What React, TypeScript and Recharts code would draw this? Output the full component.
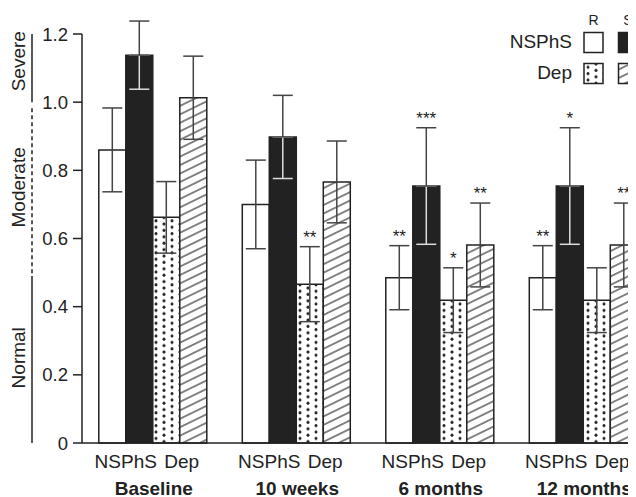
import React from "react";
import { BarChart, Bar, XAxis, YAxis, ErrorBar, LabelList, ReferenceArea } from "recharts";

const categories = ["Baseline", "10 weeks", "6 months", "12 months"];
const groupLabels = ["NSPhS", "Dep"];
const legendCols = ["R", "S"];

const nsphsR = [0.86, 0.7, 0.485, 0.485];
const nsphsRErr = [0.123, 0.13, 0.094, 0.094];
const nsphsRStars = ["", "", "**", "**"];

const nsphsS = [1.138, 0.898, 0.754, 0.754];
const nsphsSErr = [0.1, 0.122, 0.171, 0.171];
const nsphsSStars = ["", "", "***", "*"];

const depR = [0.662, 0.466, 0.419, 0.419];
const depRErr = [0.105, 0.11, 0.095, 0.095];
const depRStars = ["", "**", "*", ""];

const depS = [1.013, 0.766, 0.581, 0.581];
const depSErr = [0.122, 0.12, 0.123, 0.123];
const depSStars = ["", "", "**", "**"];

const yTicks = [0, 0.2, 0.4, 0.6, 0.8, 1.0, 1.2];
const yMax = 1.2;

const severityBands = [
  { name: "Severe", from: 1.0, to: 1.2, dashed: false, labelAt: 1.12 },
  { name: "Moderate", from: 0.49, to: 0.982, dashed: true, labelAt: 0.75 },
  { name: "Normal", from: 0.0, to: 0.49, dashed: false, labelAt: 0.25 },
];

const FONT = "'Liberation Sans', Arial, Helvetica, sans-serif";
const INK = "#222";

// Recharts widens the value domain to include the error bars; keep the
// 0..1.2 span at the reference's pixel size by sizing the plot accordingly.
const PLOT_BOTTOM = 435;
const SPAN_PX = 409; // pixels for 0 .. yMax
const domainTop = Math.max(
  yMax,
  ...nsphsR.map((v, i) => v + nsphsRErr[i]),
  ...nsphsS.map((v, i) => v + nsphsSErr[i]),
  ...depR.map((v, i) => v + depRErr[i]),
  ...depS.map((v, i) => v + depSErr[i])
);
const marginTop = PLOT_BOTTOM - (SPAN_PX * domainTop) / yMax;

const data = categories.map((name, i) => ({
  name,
  nR: nsphsR[i],
  nRe: nsphsRErr[i],
  nRs: nsphsRStars[i],
  nS: nsphsS[i],
  nSeLow: [nsphsSErr[i], 0],
  nSeHigh: [0, nsphsSErr[i]],
  nSs: nsphsSStars[i],
  dR: depR[i],
  dRe: depRErr[i],
  dRs: depRStars[i],
  dS: depS[i],
  dSe: depSErr[i],
  dSs: depSStars[i],
}));

const starLabel = (vals: number[], errs: number[]) => (props: any) => {
  const { x, y, width, height, value, index } = props;
  if (!value || index == null) return null;
  const pxPer = Number(height) / vals[index];
  const top = Number(y) - errs[index] * pxPer;
  return (
    <text
      x={Number(x) + Number(width) / 2}
      y={top - 4}
      textAnchor="middle"
      fontSize={17}
      fontFamily={FONT}
      fill={INK}
    >
      {value}
    </text>
  );
};

const XTick = (props: any) => {
  const { x, y, payload } = props;
  return (
    <g>
      <text x={x - 28} y={y + 25} textAnchor="middle" fontSize={19} fontFamily={FONT} fill={INK}>
        {groupLabels[0]}
      </text>
      <text x={x + 28} y={y + 25} textAnchor="middle" fontSize={19} fontFamily={FONT} fill={INK}>
        {groupLabels[1]}
      </text>
      <text
        x={x}
        y={y + 52}
        textAnchor="middle"
        fontSize={19}
        fontWeight="bold"
        fontFamily={FONT}
        fill={INK}
      >
        {payload.value}
      </text>
    </g>
  );
};

const axisLineShape = (props: any) => {
  const { x, y, height } = props;
  return <line x1={x} x2={x} y1={y} y2={y + height} stroke={INK} strokeWidth={1.5} />;
};

const bandShape = (band: (typeof severityBands)[number]) => (props: any) => {
  const { x, y, height } = props;
  const lx = x - 50;
  const ty = y + height * ((band.to - band.labelAt) / (band.to - band.from));
  const tx = x - 64;
  return (
    <g>
      <line
        x1={lx}
        x2={lx}
        y1={y}
        y2={y + height}
        stroke={INK}
        strokeWidth={1.5}
        strokeDasharray={band.dashed ? "4 3" : undefined}
      />
      <text
        x={tx}
        y={ty}
        dy="0.35em"
        textAnchor="middle"
        transform={`rotate(-90 ${tx} ${ty})`}
        fontSize={19}
        fontFamily={FONT}
        fill={INK}
      >
        {band.name}
      </text>
    </g>
  );
};

const Patterns = () => (
  <svg width={0} height={0} style={{ position: "absolute" }}>
    <defs>
      <pattern id="dots" patternUnits="userSpaceOnUse" width={16} height={6.4}>
        <rect width={16} height={6.4} fill="#fff" />
        <circle cx={4} cy={1.6} r={1.5} fill={INK} />
        <circle cx={12} cy={4.8} r={1.5} fill={INK} />
      </pattern>
      <pattern
        id="hatch"
        patternUnits="userSpaceOnUse"
        width={8}
        height={7.6}
        patternTransform="rotate(-26)"
      >
        <rect width={8} height={7.6} fill="#fff" />
        <line x1={-1} x2={9} y1={3.8} y2={3.8} stroke={INK} strokeWidth={1.1} />
      </pattern>
    </defs>
  </svg>
);

const LegendBox = () => (
  <svg
    width={628}
    height={100}
    style={{ position: "absolute", left: 0, top: 0, pointerEvents: "none" }}
  >
    <text x={585.5} y={17} textAnchor="middle" fontSize={14} fontFamily={FONT} fill={INK}>
      {legendCols[0]}
    </text>
    <text x={620} y={17} textAnchor="middle" fontSize={14} fontFamily={FONT} fill={INK}>
      {legendCols[1]}
    </text>
    <text x={564} y={40} textAnchor="end" fontSize={19} fontFamily={FONT} fill={INK}>
      {groupLabels[0]}
    </text>
    <text x={564} y={71} textAnchor="end" fontSize={19} fontFamily={FONT} fill={INK}>
      {groupLabels[1]}
    </text>
    <rect x={576} y={24.5} width={19} height={20} fill="#fff" stroke={INK} strokeWidth={1.5} />
    <rect x={610.5} y={24.5} width={19} height={20} fill={INK} stroke={INK} strokeWidth={1.5} />
    <rect x={576} y={55.5} width={19} height={20} fill="url(#dots)" stroke={INK} strokeWidth={1.5} />
    <rect x={610.5} y={55.5} width={19} height={20} fill="url(#hatch)" stroke={INK} strokeWidth={1.5} />
  </svg>
);

export default function App() {
  return (
    <div style={{ position: "relative", width: 628, height: 489, overflow: "hidden" }}>
      <Patterns />
      <BarChart
        width={660}
        height={489}
        data={data}
        margin={{ top: marginTop, right: 12, left: 0, bottom: 0 }}
        barCategoryGap="11.7%"
        barGap={0}
      >
        <XAxis
          dataKey="name"
          height={54}
          interval={0}
          tickSize={0}
          tickMargin={0}
          tickLine={false}
          axisLine={{ stroke: INK, strokeWidth: 1.5 }}
          tick={<XTick />}
        />
        <YAxis
          domain={[0, domainTop]}
          ticks={yTicks}
          interval={0}
          width={74}
          tickSize={9}
          tickMargin={5}
          axisLine={false}
          tickLine={{ stroke: INK, strokeWidth: 1.5 }}
          tick={{ fill: INK, fontSize: 18.5, fontFamily: FONT }}
          tickFormatter={(v: number) => (v === 0 ? "0" : v.toFixed(1))}
        />
        <ReferenceArea y1={0} y2={yMax} ifOverflow="visible" shape={axisLineShape} />
        {severityBands.map((b) => (
          <ReferenceArea
            key={b.name}
            y1={b.from}
            y2={b.to}
            ifOverflow="visible"
            shape={bandShape(b)}
          />
        ))}
        <Bar dataKey="nR" fill="#fff" stroke={INK} strokeWidth={1.5} isAnimationActive={false}>
          <ErrorBar dataKey="nRe" width={10} stroke="#444" strokeWidth={1.5} />
          <LabelList dataKey="nRs" content={starLabel(nsphsR, nsphsRErr)} />
        </Bar>
        <Bar dataKey="nS" fill={INK} stroke={INK} strokeWidth={1.5} isAnimationActive={false}>
          <ErrorBar dataKey="nSeLow" width={10} stroke="#ddd" strokeWidth={1.5} />
          <ErrorBar dataKey="nSeHigh" width={10} stroke="#444" strokeWidth={1.5} />
          <LabelList dataKey="nSs" content={starLabel(nsphsS, nsphsSErr)} />
        </Bar>
        <Bar dataKey="dR" fill="url(#dots)" stroke={INK} strokeWidth={1.5} isAnimationActive={false}>
          <ErrorBar dataKey="dRe" width={10} stroke="#444" strokeWidth={1.5} />
          <LabelList dataKey="dRs" content={starLabel(depR, depRErr)} />
        </Bar>
        <Bar dataKey="dS" fill="url(#hatch)" stroke={INK} strokeWidth={1.5} isAnimationActive={false}>
          <ErrorBar dataKey="dSe" width={10} stroke="#444" strokeWidth={1.5} />
          <LabelList dataKey="dSs" content={starLabel(depS, depSErr)} />
        </Bar>
      </BarChart>
      <LegendBox />
    </div>
  );
}
